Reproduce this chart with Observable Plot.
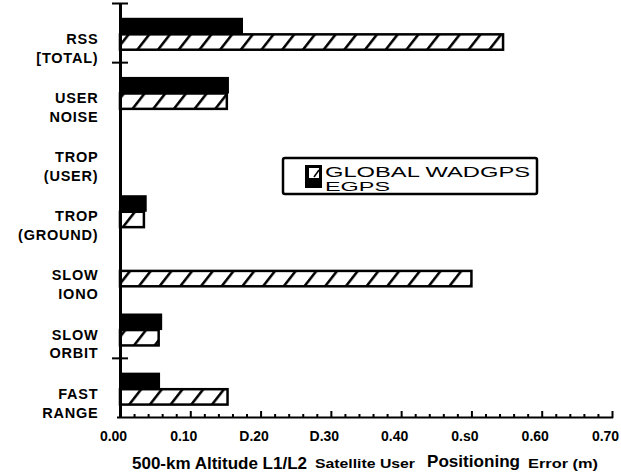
<!DOCTYPE html>
<html><head><meta charset="utf-8">
<script src="https://cdn.jsdelivr.net/npm/d3@7"></script>
<script src="https://cdn.jsdelivr.net/npm/@observablehq/plot@0.6"></script>
<style>
body{margin:0;background:#fff;}
.cat text{letter-spacing:0.8px;}
</style></head><body><div id="chart"></div>
<script>
// ---- data ----
const categories = ["RSS\n[TOTAL)", "USER\nNOISE", "TROP\n(USER)", "TROP\n(GROUND)", "SLOW\nIONO", "SLOW\nORBIT", "FAST\nRANGE"];
const egps = [0.175, 0.155, 0, 0.038, 0, 0.06, 0.057];
const globalWadgps = [0.545, 0.152, 0, 0.034, 0.50, 0.055, 0.153];
const xTickValues = [0, 0.1, 0.2, 0.3, 0.4, 0.5, 0.6, 0.7];
const xTickLabels = ["0.00", "0.10", "D.20", "D.30", "0.40", "0.s0", "0.60", "0.70"];
const xMinorTicks = [0.02,0.04,0.06,0.08,0.12,0.14,0.16,0.18,0.22,0.24,0.26,0.28,0.32,0.34,0.36,0.38,0.42,0.44,0.46,0.48,0.52,0.54,0.56,0.58,0.62,0.64,0.66,0.68];
const categoryBoundaries = [0, 1, 6];
const legendLabels = ["GLOBAL WADGPS", "EGPS"];
const axisTitleParts = ["500-km Altitude L1/L2", "Satellite User", "Positioning", "Error (m)"];

const rows = categories.map((c, i) => ({i, c, egps: egps[i], wad: globalWadgps[i]}));
const FONT = "'Liberation Sans', Arial, Helvetica, sans-serif";

const svg = Plot.plot({
  width: 621, height: 475,
  marginLeft: 120, marginRight: 9, marginTop: 3, marginBottom: 58,
  style: {fontFamily: FONT, background: "white", color: "black"},
  x: {domain: [0, 0.7], axis: null},
  y: {domain: [0, 7], reverse: true, axis: null},
  marks: [
    // black EGPS bars
    Plot.rect(rows.filter(d => d.egps > 0), {x1: () => 0, x2: "egps", y1: d => d.i + 0.25, y2: d => d.i + 0.53, fill: "black"}),
    // hatched GLOBAL WADGPS bars
    Plot.rect(rows.filter(d => d.wad > 0), {x1: () => 0, x2: "wad", y1: d => d.i + 0.53, y2: d => d.i + 0.79, fill: "url(#hatch)", stroke: "black", strokeWidth: 2.5}),
    // axes lines
    Plot.ruleX([0], {stroke: "black", strokeWidth: 3}),
    Plot.ruleY([7], {stroke: "black", strokeWidth: 2, insetLeft: -3, insetRight: -1}),
    // x ticks
    Plot.ruleX(xMinorTicks, {x: d => d, y1: () => 7, y2: () => 7, insetTop: -3, insetBottom: -1, stroke: "black", strokeWidth: 2}),
    Plot.ruleX(xTickValues, {x: d => d, y1: () => 7, y2: () => 7, insetTop: -6, insetBottom: -1, stroke: "black", strokeWidth: 2}),
    // y boundary ticks
    Plot.ruleY(categoryBoundaries, {y: d => d, x1: () => 0, x2: () => 0, insetLeft: -8, insetRight: -8, stroke: "black", strokeWidth: 2}),
    // x tick labels
    Plot.text(xTickValues, {x: d => d, text: (d, i) => xTickLabels[i], frameAnchor: "bottom", dy: 23, dx: -7, fontSize: 14, fontWeight: "bold", fill: "black"}),
    // category labels
    Plot.text(rows, {x: () => 0, y: d => d.i + 0.74, text: "c", textAnchor: "end", dx: -22, lineHeight: 1.3, fontSize: 14.5, fontWeight: "bold", fill: "black", className: "cat"})
  ]
});

const s = d3.select(svg);
const defs = s.insert("defs", ":first-child");
const pat = defs.append("pattern").attr("id", "hatch").attr("patternUnits", "userSpaceOnUse")
  .attr("width", 20.7).attr("height", 10).attr("patternTransform", "skewX(-38)");
pat.append("rect").attr("width", 20.7).attr("height", 10).attr("fill", "white");
pat.append("rect").attr("x", 9).attr("width", 3.2).attr("height", 10).attr("fill", "black");

// legend
const lg = s.append("g").attr("text-anchor", "start");
lg.append("rect").attr("x", 283).attr("y", 158).attr("width", 254).attr("height", 36).attr("rx", 2)
  .attr("fill", "white").attr("stroke", "black").attr("stroke-width", 2.5);
lg.append("rect").attr("x", 305).attr("y", 165).attr("width", 17).attr("height", 23).attr("fill", "black");
lg.append("rect").attr("x", 309).attr("y", 168).attr("width", 10).attr("height", 10).attr("fill", "white");
lg.append("line").attr("x1", 314).attr("y1", 177).attr("x2", 319).attr("y2", 170).attr("stroke", "black").attr("stroke-width", 1.5);
lg.append("text").attr("x", 325).attr("y", 176.5).attr("font-family", FONT).attr("font-size", 14.5)
  .attr("textLength", 205).attr("lengthAdjust", "spacingAndGlyphs").text(legendLabels[0]);
lg.append("text").attr("x", 325).attr("y", 191).attr("font-family", FONT).attr("font-size", 12.5)
  .attr("textLength", 65).attr("lengthAdjust", "spacingAndGlyphs").text(legendLabels[1]);

// axis title
const titleSpec = [
  {x: 132, w: 175, size: 16, y: 469},
  {x: 315, w: 100, size: 13, y: 468},
  {x: 427, w: 93, size: 16.5, y: 467},
  {x: 528, w: 70, size: 13, y: 468}
];
const tg = s.append("g").attr("font-family", FONT).attr("font-weight", "bold").attr("text-anchor", "start");
axisTitleParts.forEach((t, i) => {
  const sp = titleSpec[i];
  tg.append("text").attr("x", sp.x).attr("y", sp.y).attr("font-size", sp.size)
    .attr("textLength", sp.w).attr("lengthAdjust", "spacingAndGlyphs").text(t);
});

document.getElementById("chart").appendChild(svg);
</script></body></html>
